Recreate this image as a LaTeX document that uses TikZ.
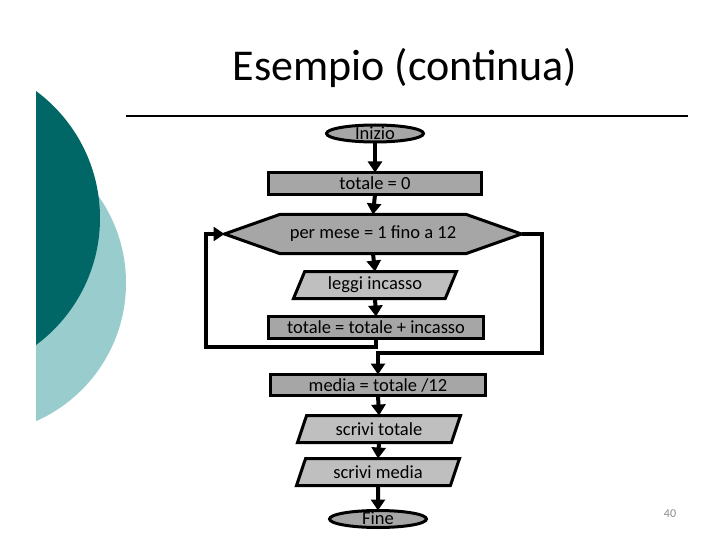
\documentclass[tikz,border=0pt]{standalone}
\usepackage{fontspec}
\setmainfont{Carlito}
\usetikzlibrary{shapes.geometric,shapes.symbols,arrows.meta}
\definecolor{darkteal}{RGB}{0,102,102}
\definecolor{lightteal}{RGB}{153,204,204}
\definecolor{boxgray}{RGB}{166,166,166}
\definecolor{paragray}{RGB}{191,191,191}
\definecolor{numgray}{RGB}{140,140,140}
\tikzset{
  flow/.style={draw=black, line width=3pt, inner sep=0pt, outer sep=0pt, font=\fontsize{18.5}{21}\selectfont},
  procbox/.style={flow, rectangle, fill=boxgray, minimum width=213pt, minimum height=22pt},
  termbox/.style={flow, ellipse, fill=boxgray, minimum width=97pt, minimum height=17pt, text height=11.5pt, text depth=0pt},
  iobox/.style={flow, trapezium, trapezium left angle=55, trapezium right angle=125, trapezium stretches body, fill=paragray, minimum width=163pt, minimum height=27pt},
  loopbox/.style={flow, signal, signal to=west and east, signal pointer angle=39, fill=boxgray, minimum width=297pt, minimum height=39pt},
  conn/.style={line width=4pt, -{Triangle[width=14pt,length=11pt]}},
}
\begin{document}
\begin{tikzpicture}[x=1pt,y=-1pt]
\useasboundingbox (0,0) rectangle (720,540);
\fill[white] (0,0) rectangle (720,540);
% decorative circles
\begin{scope}
\clip (36,0) rectangle (720,540);
\fill[lightteal] (-25,283) circle (151);
\fill[darkteal] (-58,218) circle (158);
\end{scope}
% title
\node (title) at (405,68) {\fontsize{44}{50}\selectfont Esempio (continua)};
\coordinate (rl) at (126,116);
\coordinate (rr) at (688,116);
\draw[line width=2pt] (rl) -- (rr);
\node[text=numgray, font=\fontsize{12}{14}\selectfont] (pnum) at (670,514) {40};
% flowchart nodes
\node[termbox] (inizio) at (375,133.5) {Inizio};
\node[procbox] (t0) at (375,183.5) {totale = 0};
\node[loopbox] (hex) at (373,234) {per mese = 1 fino a 12};
\node[iobox] (leggi) at (375,285) {leggi incasso};
\node[procbox, minimum width=215pt] (tti) at (376,327.5) {totale = totale + incasso};
\node[procbox, minimum width=215pt, minimum height=21pt] (media) at (378,385) {media = totale /12};
\node[iobox] (stot) at (379,429) {scrivi totale};
\node[iobox] (smed) at (378,472) {scrivi media};
\node[termbox] (fine) at (378,519) {Fine};
% connectors
\coordinate (loopL) at (206,234);
\coordinate (loopR) at (542,353);
\draw[conn] (inizio.south) -- (t0.north);
\draw[conn] (t0.south) -- (hex.north);
\draw[conn] (hex.south) -- (leggi.north);
\draw[conn] (leggi.south) -- (tti.north);
\draw[conn] (tti.south) -- ++(0,8) -| (loopL) -- (hex.west);
\draw[conn] (hex.east) -| (loopR) -| (media.north);
\draw[conn] (media.south) -- (stot.north);
\draw[conn] (stot.south) -- (smed.north);
\draw[conn] (smed.south) -- (fine.north);
\end{tikzpicture}
\end{document}
